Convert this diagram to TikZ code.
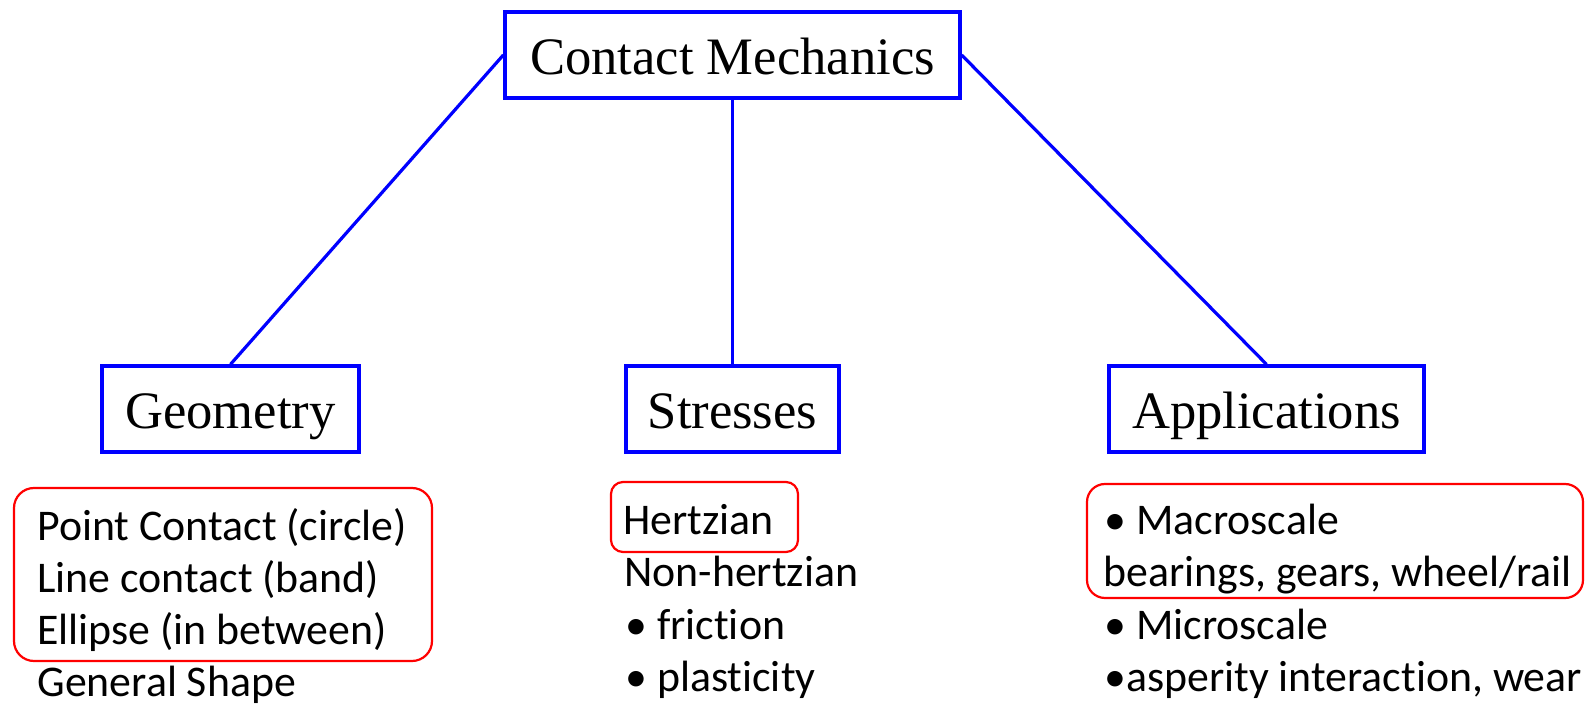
\documentclass[tikz,border=0pt]{standalone}
\usepackage{fontspec}
\setmainfont{Liberation Serif}
\newfontfamily\calibrifont[Ligatures=NoCommon,RawFeature={-liga;-clig;-calt;-dlig}]{Carlito}
\begin{document}
\begin{tikzpicture}[x=0.5pt,y=-0.5pt,
  bluebox/.style={draw=blue,line width=1.65pt,fill=white,inner sep=0pt,text height=24pt,text depth=4pt,font=\fontsize{26.3}{30}\selectfont},
  conn/.style={draw=blue,line width=1.6pt},
  listtext/.style={anchor=base west,inner sep=0pt,font=\calibrifont\fontsize{21.9}{26}\selectfont},
  redbox/.style={draw=red,line width=1.1pt,rounded corners=#1},
]
\useasboundingbox (0,0) rectangle (1585,704);
% blue boxes
\node[bluebox,minimum width=227.5pt,minimum height=43pt] (top) at (732.5,55) {Contact Mechanics};
\node[bluebox,minimum width=128.5pt,minimum height=43pt] (geo) at (230.5,409) {Geometry};
\node[bluebox,minimum width=106.5pt,minimum height=43pt] (str) at (732.5,409) {Stresses};
\node[bluebox,minimum width=157.5pt,minimum height=43pt] (app) at (1266.5,409) {Applications};
% connectors
\draw[conn] (top.west) -- (geo.north);
\draw[conn] (top.south) -- (str.north);
\draw[conn] (top.east) -- (app.north);
% geometry list
\node[listtext] (g1) at (37,541) {Point Contact (circle)};
\node[listtext] (g2) at (37,593) {Line contact (band)};
\node[listtext] (g3) at (37,645) {Ellipse (in between)};
\node[listtext] (g4) at (37,697) {General Shape};
\draw[redbox=10pt] (14,488) rectangle (432,661);
% stresses list
\node[listtext] (s1) at (623,535) {Hertzian};
\node[listtext] (s2) at (624,587) {Non-hertzian};
\node[listtext] (s3) at (625,640) {• friction};
\node[listtext] (s4) at (625,692) {• plasticity};
\draw[redbox=6pt] (611,482) rectangle (798,552);
% applications list
\node[listtext] (a1) at (1104,535) {• Macroscale};
\node[listtext] (a2) at (1103,587) {bearings, gears, wheel/rail};
\node[listtext] (a3) at (1104,640) {• Microscale};
\node[listtext] (a4) at (1104,692) {•asperity interaction, wear};
\draw[redbox=9pt] (1087,484) rectangle (1583,598);
\end{tikzpicture}
\end{document}
